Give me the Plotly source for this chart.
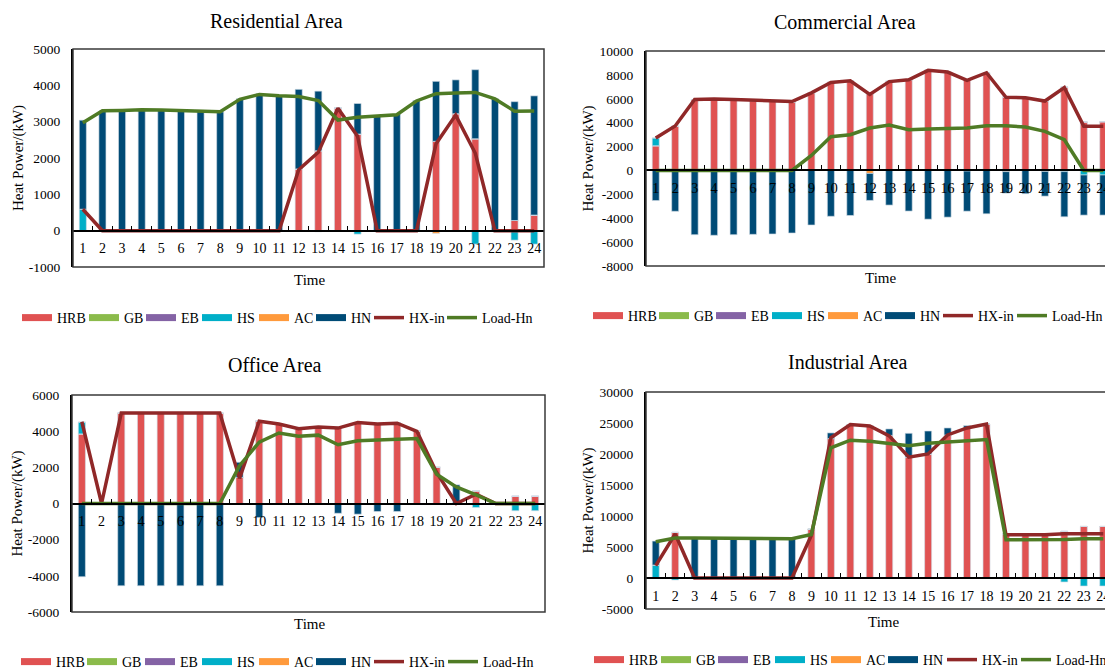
import plotly.graph_objects as go

# The page body adds an 8 px margin, so the figure is 8 px smaller than the window
# and every reference pixel position is shifted by OFF.
OFF = 8
W, H = 1113 - OFF, 670 - OFF
FONT = "Times New Roman, Liberation Serif, serif"

hours = [str(i) for i in range(1, 25)]
series_names = ["HRB", "GB", "EB", "HS", "AC", "HN"]
line_names = ["HX-in", "Load-Hn"]
colors = {"HRB": "#E05252", "GB": "#8BBB4B", "EB": "#8463A5", "HS": "#00AFC8",
          "AC": "#FF9A3C", "HN": "#004B76", "HX-in": "#902828", "Load-Hn": "#4F7B25"}

# ---------------- Residential Area ----------------
res_hrb = [0, 0, 0, 0, 0, 0, 0, 0, 0, 0, 0, 1700, 2200, 3380, 2660, 0, 0, 0, 2460, 3220, 2530, 0, 280, 430]
res_gb = [0] * 24
res_eb = [0] * 24
res_hs = [590, 0, 0, 0, 0, 0, 0, 0, 0, 0, 0, 0, -30, 0, -95, 0, 0, 0, 0, 0, -370, 0, -260, -370]
res_ac = [0, 0, 0, 0, 0, 0, 0, 0, 0, 0, 0, 0, 0, 0, 0, 0, 0, 0, -75, 0, 0, 0, 0, 0]
res_hn = [2450, 3300, 3300, 3320, 3310, 3300, 3310, 3270, 3630, 3770, 3720, 2190, 1640, 0, 840, 3170, 3210, 3580, 1650, 930, 1900, 3630, 3270, 3280]
res_hx = [590, 0, 0, 0, 0, 0, 0, 0, 0, 0, 0, 1680, 2160, 3370, 2600, 0, 0, 0, 2390, 3180, 2130, 0, 0, 0]
res_load = [2970, 3300, 3310, 3330, 3320, 3310, 3300, 3275, 3615, 3750, 3710, 3690, 3580, 3045, 3120, 3155, 3190, 3570, 3770, 3790, 3805, 3625, 3290, 3295]

# ---------------- Commercial Area ----------------
com_hrb = [2070, 3700, 5940, 5940, 5880, 5850, 5830, 5740, 6500, 7370, 7520, 6420, 7460, 7600, 8380, 8240, 7540, 8180, 6140, 6090, 5810, 6980, 4060, 4080]
com_gb = [0] * 24
com_eb = [0] * 24
com_hs = [650, 0, 0, 0, 0, 0, 0, 0, 0, 0, 0, 0, 0, 0, 0, 0, 0, 0, 0, 0, 0, -100, -380, -380]
com_ac = [0, 0, 0, 0, 0, 0, 0, 0, 0, 0, 0, -250, 0, 0, 0, 0, -50, 0, -100, 0, -80, 0, 0, 0]
com_hn = [-2520, -3420, -5380, -5430, -5380, -5350, -5320, -5240, -4570, -3840, -3770, -2260, -2900, -3400, -4080, -3910, -3360, -3630, -1800, -1950, -2070, -3780, -3360, -3360]
com_hx = [2720, 3720, 5940, 5990, 5940, 5900, 5880, 5770, 6500, 7370, 7510, 6370, 7440, 7590, 8380, 8240, 7540, 8180, 6120, 6090, 5810, 6930, 3690, 3690]
com_load = [0, 0, 0, 0, 0, 0, 0, 0, 1260, 2830, 2990, 3550, 3800, 3410, 3460, 3520, 3550, 3740, 3740, 3630, 3270, 2570, 0, 0]

# ---------------- Office Area ----------------
off_hrb = [3850, 0, 5000, 5000, 5000, 5000, 5000, 5000, 1440, 4560, 4400, 4130, 4240, 4170, 4480, 4390, 4450, 4020, 2000, 0, 700, 0, 400, 400]
off_gb = [0] * 24
off_eb = [0] * 24
off_hs = [650, 0, 0, 0, 0, 0, 0, 0, 0, 0, 0, 0, 0, 0, 0, 0, 0, 0, 0, 0, -220, 0, -400, -400]
off_ac = [0] * 24
off_hn = [-4050, 0, -4550, -4550, -4550, -4550, -4550, -4550, 840, -780, 0, 0, 0, -540, -590, -440, -440, 0, 0, 1030, 0, 0, 0, 0]
off_hx = [4520, 0, 5000, 5000, 5000, 5000, 5000, 5000, 1390, 4550, 4400, 4130, 4230, 4170, 4480, 4390, 4440, 3990, 1720, 0, 520, 0, 0, 0]
off_load = [0, 0, 0, 0, 0, 0, 0, 0, 2090, 3390, 3900, 3720, 3780, 3250, 3470, 3520, 3560, 3590, 1620, 920, 480, 0, 0, 0]

# ---------------- Industrial Area ----------------
ind_hrb = [0, 7350, 0, 0, 0, 0, 0, 0, 7890, 22490, 24750, 24530, 23000, 19480, 20010, 23070, 24200, 24840, 7130, 6970, 6970, 7510, 8310, 8310]
ind_gb = [0] * 24
ind_eb = [0] * 24
ind_hs = [2090, -320, 0, 0, 0, 0, 0, 0, 0, 0, 0, 0, 0, 0, 0, 0, 0, 0, 0, 0, 0, -640, -1290, -1290]
ind_ac = [0] * 24
ind_hn = [3870, 0, 6440, 6440, 6440, 6400, 6400, 6340, 0, 910, 0, 0, 1040, 3860, 3700, 1130, 370, 0, 0, 0, 0, 0, 0, 0]
ind_hx = [1990, 7090, 0, 0, 0, 0, 0, 0, 6920, 22600, 24750, 24530, 22920, 19480, 20010, 23070, 24200, 24840, 6970, 6970, 6970, 7130, 7130, 7130]
ind_load = [5850, 6440, 6440, 6440, 6420, 6400, 6380, 6330, 7030, 20990, 22220, 22060, 21690, 21350, 21730, 21890, 22050, 22320, 6170, 6170, 6170, 6200, 6330, 6330]

# layout positions below are in window pixels of the reference picture
panels = [
    dict(title="Residential Area", bars=[res_hrb, res_gb, res_eb, res_hs, res_ac, res_hn],
         lines=[res_hx, res_load], yr=(-1000, 5000), dt=1000,
         px=(73, 544), py=(49, 267), tpos=(276, 21), timepos=(309, 280),
         legx=[57, 124, 181, 237, 294, 351, 409, 482], legy=318),
    dict(title="Commercial Area", bars=[com_hrb, com_gb, com_eb, com_hs, com_ac, com_hn],
         lines=[com_hx, com_load], yr=(-8000, 10000), dt=2000,
         px=(646, 1113), py=(51, 266), tpos=(845, 22), timepos=(880, 278),
         legx=[628, 694, 751, 807, 863, 920, 978, 1052], legy=316),
    dict(title="Office Area", bars=[off_hrb, off_gb, off_eb, off_hs, off_ac, off_hn],
         lines=[off_hx, off_load], yr=(-6000, 6000), dt=2000,
         px=(72, 545), py=(395, 612), tpos=(275, 365), timepos=(309, 624),
         legx=[56, 122, 180, 237, 294, 351, 409, 483], legy=662),
    dict(title="Industrial Area", bars=[ind_hrb, ind_gb, ind_eb, ind_hs, ind_ac, ind_hn],
         lines=[ind_hx, ind_load], yr=(-5000, 30000), dt=5000,
         px=(646, 1113), py=(392, 609), tpos=(848, 362), timepos=(883, 622),
         legx=[629, 696, 753, 810, 866, 923, 982, 1056], legy=660),
]


def fx(px):
    return (px - OFF) / W


def fy(py):
    return 1 - (py - OFF) / H


fig = go.Figure()
layout = dict(width=W, height=H, margin=dict(l=0, r=0, t=0, b=0, autoexpand=False), template="none",
              paper_bgcolor="white", plot_bgcolor="white", barmode="relative", bargap=0.64,
              font=dict(family=FONT, size=14, color="black"), annotations=[], shapes=[])

leg_count = 0
for i, p in enumerate(panels):
    n = "" if i == 0 else str(i + 1)
    xa, ya = "x" + n, "y" + n
    leg_ids = []
    for j in range(len(series_names) + len(line_names)):
        leg_count += 1
        lid = "legend" if leg_count == 1 else "legend" + str(leg_count)
        leg_ids.append(lid)
        layout[lid] = dict(orientation="h", x=fx(p["legx"][j] - 40), y=fy(p["legy"]),
                           xanchor="left", yanchor="middle", bgcolor="rgba(0,0,0,0)",
                           font=dict(size=14, family=FONT, color="black"), itemwidth=30)
    for name, vals in zip(series_names, p["bars"]):
        fig.add_trace(go.Bar(x=hours, y=vals, name=name, xaxis=xa, yaxis=ya,
                             marker=dict(color=colors[name], line=dict(color="rgba(210,220,230,0.8)", width=0.8)),
                             showlegend=False))
    # legend entries for the bar series (wide rectangle swatches)
    for j, name in enumerate(series_names):
        fig.add_trace(go.Scatter(x=[None], y=[None], mode="lines", name=name, xaxis=xa, yaxis=ya,
                                 line=dict(color=colors[name], width=7), legend=leg_ids[j], showlegend=True))
    for j, (name, vals) in enumerate(zip(line_names, p["lines"])):
        fig.add_trace(go.Scatter(x=hours, y=vals, mode="lines", name=name, xaxis=xa, yaxis=ya,
                                 line=dict(color=colors[name], width=3.5),
                                 legend=leg_ids[len(series_names) + j], showlegend=True))

    x0, x1 = fx(p["px"][0]), min(1.0, fx(p["px"][1]))
    y0, y1 = fy(p["py"][1]), fy(p["py"][0])
    ymin, ymax = p["yr"]
    zero_pos = y0 + (0 - ymin) / (ymax - ymin) * (y1 - y0)
    layout["xaxis" + n] = dict(domain=[x0, x1], anchor="free", position=zero_pos, type="category",
                               categoryorder="array", categoryarray=hours, range=[-0.5, 23.5],
                               showline=True, linecolor="black", linewidth=2, showgrid=False, zeroline=False,
                               ticks="inside", tickson="boundaries", ticklen=4, tickcolor="black", tickwidth=1,
                               tickangle=0, ticklabelstandoff=5, tickfont=dict(size=14, family=FONT),
                               automargin=False)
    tv = list(range(ymin, ymax + 1, p["dt"]))
    layout["yaxis" + n] = dict(domain=[y0, y1], anchor=xa, range=[ymin, ymax], tickvals=tv,
                               ticktext=[str(v) for v in tv], showline=True, linecolor="black", linewidth=2,
                               showgrid=False, zeroline=False, ticks="", ticklabelstandoff=8,
                               tickfont=dict(size=13.5, family=FONT), automargin=False,
                               title=dict(text="Heat Power/(kW)", font=dict(size=15, family=FONT), standoff=2))
    layout["shapes"].append(dict(type="rect", xref=xa + " domain", yref=ya + " domain", x0=0, x1=1, y0=0, y1=1,
                                 line=dict(color="#3a3a3a", width=1.5), layer="above"))
    layout["annotations"].append(dict(text=p["title"], x=fx(p["tpos"][0]), y=fy(p["tpos"][1]),
                                      xref="paper", yref="paper", showarrow=False, xanchor="center", yanchor="middle",
                                      font=dict(size=20, family=FONT, color="black")))
    layout["annotations"].append(dict(text="Time", x=fx(p["timepos"][0]), y=fy(p["timepos"][1]),
                                      xref="paper", yref="paper", showarrow=False, xanchor="center", yanchor="middle",
                                      font=dict(size=15, family=FONT, color="black")))

fig.update_layout(**layout)
fig.write_html("out.html")
